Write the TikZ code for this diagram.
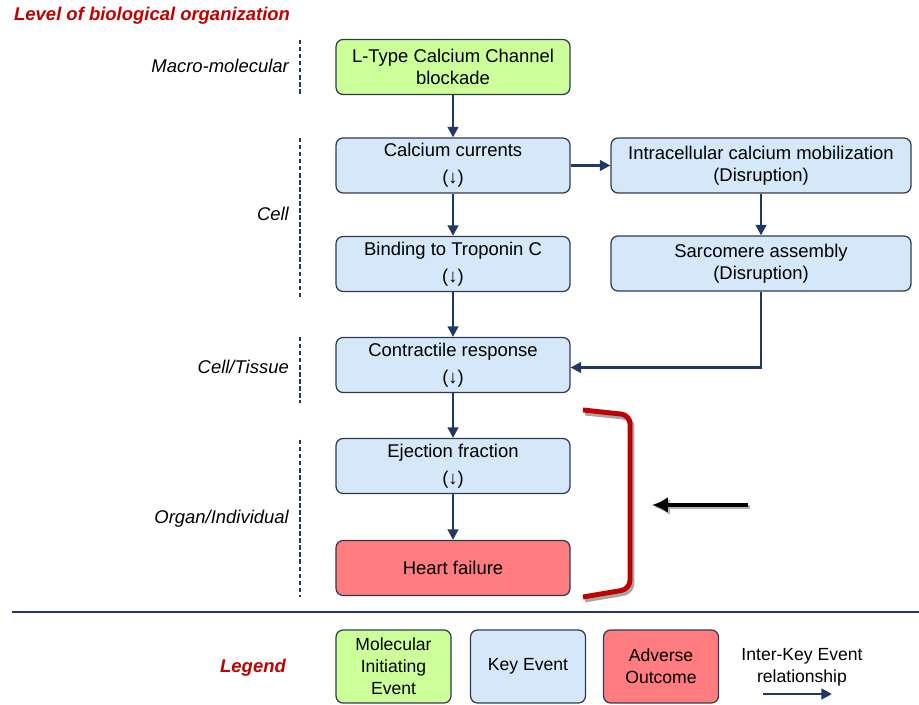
\documentclass[tikz,border=0pt]{standalone}
\usepackage{fontspec}
\setmainfont{Liberation Sans}
\usetikzlibrary{arrows.meta, positioning}

\definecolor{navy}{HTML}{1F3864}
\definecolor{darkred}{HTML}{C00000}
\definecolor{mieGreen}{HTML}{CCFF99}
\definecolor{keBlue}{HTML}{D5E8FA}
\definecolor{aoRed}{HTML}{FF7C80}
\definecolor{boxLine}{HTML}{2E3B4E}

\tikzset{
  event/.style={draw=boxLine, line width=0.7pt, rounded corners=4pt, align=center,
    font=\fontsize{10.5}{12.5}\selectfont, minimum width=4.68cm, minimum height=1.1cm, inner sep=2pt},
  mie/.style={event, fill=mieGreen},
  ke/.style={event, fill=keBlue},
  ao/.style={event, fill=aoRed},
  wide/.style={minimum width=6cm},
  legendbox/.style={minimum width=2.3cm, minimum height=1.46cm, font=\fontsize{10}{12.5}\selectfont},
  link/.style={-{Triangle[length=6pt,width=6pt]}, navy, line width=1.4pt},
  level/.style={anchor=east, font=\fontsize{10.5}{12.5}\selectfont\itshape},
  levelbar/.style={navy, line width=0.9pt, dash pattern=on 2.5pt off 1.5pt},
}

\begin{document}
\begin{tikzpicture}[x=0.02cm, y=-0.02cm]
  \useasboundingbox (0,0) rectangle (919,705);
  % Title
  \node[anchor=west, text=darkred, font=\fontsize{10.5}{12.5}\selectfont\bfseries\itshape] (title) at (8,16) {Level of biological organization};
  % Levels
  \node[level] (lMacro) at (295,66) {Macro-molecular};
  \node[level] (lCell) at (295,214) {Cell};
  \node[level] (lTissue) at (295,367) {Cell/Tissue};
  \node[level] (lOrgan) at (295,519) {Organ/Individual};
  \draw[levelbar] (300,40) -- (300,95);
  \draw[levelbar] (300,138) -- (300,298);
  \draw[levelbar] (300,337) -- (300,403);
  \draw[levelbar] (300,440) -- (300,597);
  % Events
  \node[mie] (mie) at (453,67) {L-Type Calcium Channel\\blockade};
  \node[ke] (current) at (453,165.5) {Calcium currents\\[3pt](↓)};
  \node[ke, wide] (mobil) at (761,165.5) {Intracellular calcium mobilization\\(Disruption)};
  \node[ke] (tropo) at (453,264) {Binding to Troponin C\\[3pt](↓)};
  \node[ke, wide] (sarco) at (761,263.5) {Sarcomere assembly\\(Disruption)};
  \node[ke] (contr) at (453,365) {Contractile response\\[3pt](↓)};
  \node[ke] (eject) at (453,466) {Ejection fraction\\[3pt](↓)};
  \node[ao] (hf) at (453,568) {Heart failure};
  % Relationships
  \draw[link] (mie) -- (current);
  \draw[link] (current.east |- mobil.west) -- (mobil.west);
  \draw[link] (current) -- (tropo);
  \draw[link] (mobil) -- (sarco);
  \draw[link] (tropo) -- (contr);
  \draw[link] (sarco.south) |- ([yshift=-0.05cm]contr.east);
  \draw[link] (contr) -- (eject);
  \draw[link] (eject) -- (hf);
  % Bracket and pointer
  \draw[black!35, line width=2.8pt, rounded corners=5pt] (585,413) -- (632,418) -- (632,592) -- (585,600);
  \draw[darkred, line width=2.8pt, rounded corners=5pt] (583,410) -- (630,415) -- (630,589) -- (583,597);
  \coordinate (ptrStart) at (748,505);
  \coordinate (ptrEnd) at (652,505);
  \draw[black!30, line width=2.4pt, -{Latex[length=9pt,width=9pt]}] ([shift={(2,2)}]ptrStart) -- ([shift={(2,2)}]ptrEnd);
  \draw[black, line width=2.4pt, -{Latex[length=9pt,width=9pt]}] (ptrStart) -- (ptrEnd);
  % Separator
  \coordinate (sepL) at (12,612);
  \coordinate (sepR) at (919,612);
  \draw[navy, line width=1.1pt] (sepL) -- (sepR);
  % Legend
  \node[text=darkred, font=\fontsize{10.5}{12.5}\selectfont\bfseries\itshape] (legend) at (253,668) {Legend};
  \node[mie, legendbox] (legMie) at (393.5,666.5) {Molecular\\Initiating\\Event};
  \node[ke, legendbox] (legKe) at (528,666.5) {Key Event};
  \node[ao, legendbox] (legAo) at (661,666.5) {Adverse\\Outcome};
  \node[align=center, font=\fontsize{10}{12.5}\selectfont] (legRel) at (802,667) {Inter-Key Event\\relationship};
  \coordinate (relStart) at (763,694);
  \coordinate (relEnd) at (832,694);
  \draw[link] (relStart) -- (relEnd);
\end{tikzpicture}
\end{document}
